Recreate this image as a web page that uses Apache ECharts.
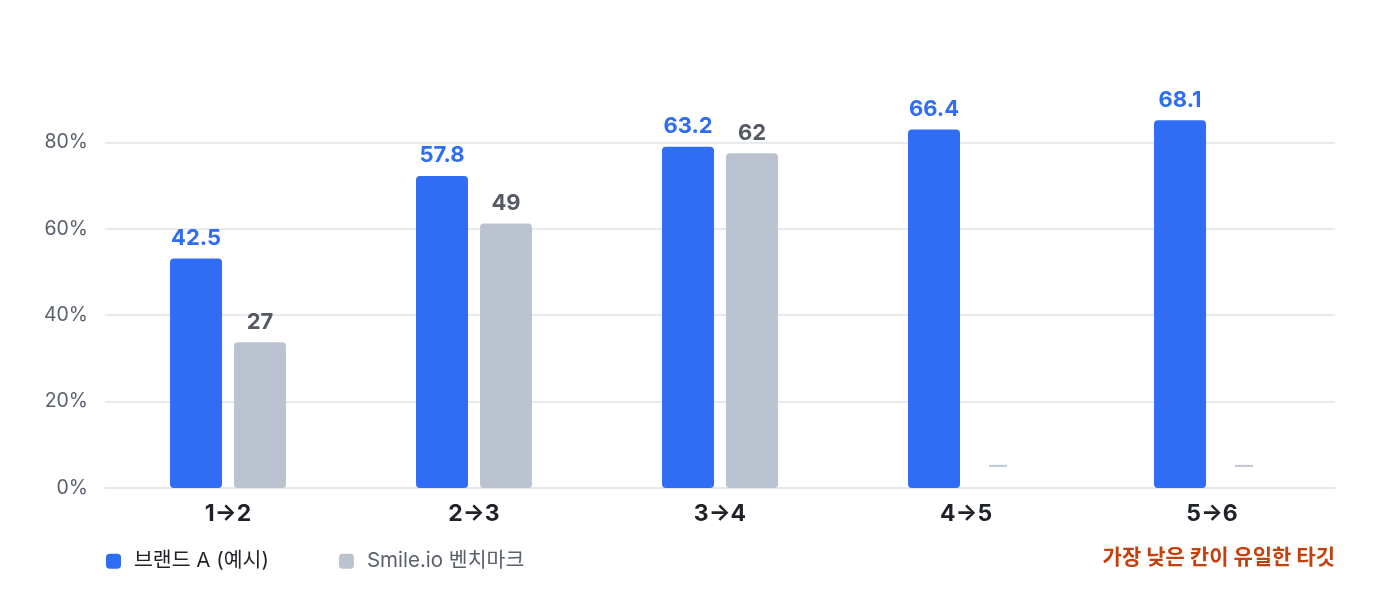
<!DOCTYPE html>
<html>
<head>
<meta charset="utf-8">
<title>브랜드 A vs Smile.io 벤치마크</title>
<script src="https://cdn.jsdelivr.net/npm/echarts@6/dist/echarts.min.js"></script>
<style>
  html, body { margin: 0; padding: 0; background: #fff; }
  #chart { width: 1400px; height: 604px; }
</style>
</head>
<body>
<div id="chart"></div>
<script>
var FONT = "Inter, 'Noto Sans CJK KR', 'Noto Sans', sans-serif";

// data
var categories = ['1→2', '2→3', '3→4', '4→5', '5→6'];
var brandValues = [42.5, 57.8, 63.2, 66.4, 68.1];
var benchValues = [27, 49, 62, null, null];
var seriesNames = ['브랜드 A (예시)', 'Smile.io 벤치마크'];
var axisMax = 80;   // top of the axis = 100%
var axisStep = 16;  // one tick = 20%
var noteText = '가장 낮은 칸이 유일한 타깃';

var BLUE = '#2f6df5';
var GRAY = '#bac3cf';

// missing benchmark -> flat dash label at baseline
var benchData = benchValues.map(function (v) {
    if (v === null) {
        return {
            value: 0,
            label: {
                formatter: '—',
                color: '#c3c9d6',
                fontWeight: 'bold',
                fontSize: 18,
                distance: 13
            }
        };
    }
    return v;
});

var chart = echarts.init(document.getElementById('chart'));

chart.setOption({
    animation: false,
    textStyle: { fontFamily: FONT },
    grid: {
        left: 105,
        right: 65,
        top: 56,
        bottom: 116,
        containLabel: false
    },
    legend: {
        left: 101,
        top: 546,
        icon: 'roundRect',
        itemWidth: 15,
        itemHeight: 15,
        itemGap: 70,
        textStyle: { fontSize: 20.5, fontFamily: FONT, padding: [0, 0, 0, 8] },
        data: [
            { name: seriesNames[0], textStyle: { color: '#1f2328' } },
            { name: seriesNames[1], textStyle: { color: '#5b616b' } }
        ]
    },
    xAxis: {
        type: 'category',
        data: categories,
        axisTick: { show: false },
        axisLine: { lineStyle: { color: '#e3e6eb', width: 2 } },
        axisLabel: {
            color: '#1f2328',
            fontSize: 23,
            fontWeight: 'bold',
            margin: 15,
            fontFamily: FONT
        }
    },
    yAxis: {
        type: 'value',
        min: 0,
        max: axisMax,
        interval: axisStep,
        axisLine: { show: false },
        axisTick: { show: false },
        splitLine: {
            showMaxLine: false,
            lineStyle: { color: '#e8eaee', width: 2 }
        },
        axisLabel: {
            showMaxLabel: false,
            color: '#5b616b',
            fontSize: 19.5,
            margin: 17,
            fontFamily: FONT,
            formatter: function (v) {
                return Math.round(v / axisMax * 100) + '%';
            }
        }
    },
    series: [{
        name: seriesNames[0],
        type: 'bar',
        barWidth: 52,
        barGap: '23%',
        itemStyle: { color: BLUE, borderRadius: 4 },
        label: {
            show: true,
            position: 'top',
            distance: 9,
            color: BLUE,
            fontSize: 22,
            fontWeight: 'bold',
            fontFamily: FONT
        },
        data: brandValues
    }, {
        name: seriesNames[1],
        type: 'bar',
        barWidth: 52,
        itemStyle: { color: GRAY, borderRadius: 4 },
        label: {
            show: true,
            position: 'top',
            distance: 9,
            color: '#555b64',
            fontSize: 22,
            fontWeight: 'bold',
            fontFamily: FONT
        },
        data: benchData
    }],
    graphic: [{
        type: 'text',
        right: 65,
        top: 547,
        style: {
            text: noteText,
            fill: '#c2410c',
            fontSize: 21,
            fontWeight: 'bold',
            fontFamily: FONT
        }
    }]
});
</script>
</body>
</html>
